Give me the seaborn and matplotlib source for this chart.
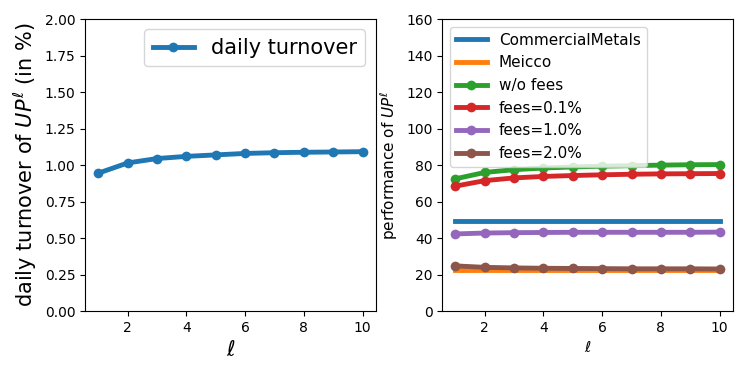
import numpy as np
import pandas as pd
import matplotlib
matplotlib.use("Agg")
import matplotlib.pyplot as plt
import seaborn as sns

ell = [1, 2, 3, 4, 5, 6, 7, 8, 9, 10]

turnover = [0.945, 1.015, 1.045, 1.06, 1.07, 1.08, 1.085, 1.088, 1.09, 1.092]

commercial_metals = [49.5] * 10
meicco = [22.5] * 10
wo_fees = [72.5, 76.0, 77.5, 78.4, 79.0, 79.4, 79.7, 80.0, 80.2, 80.3]
fees_01 = [68.5, 71.5, 73.0, 73.8, 74.3, 74.7, 75.0, 75.2, 75.3, 75.4]
fees_10 = [42.3, 42.8, 43.0, 43.1, 43.2, 43.2, 43.2, 43.2, 43.2, 43.3]
fees_20 = [24.8, 24.0, 23.7, 23.5, 23.4, 23.3, 23.2, 23.2, 23.2, 23.1]

pal = sns.color_palette("tab10")

fig, (ax1, ax2) = plt.subplots(1, 2, figsize=(7.47, 3.74), dpi=100)
ax1.set_position([0.114, 0.168, 0.389, 0.781])
ax2.set_position([0.592, 0.168, 0.389, 0.781])

# left panel: turnover
sns.lineplot(x=ell, y=turnover, ax=ax1, color=pal[0], marker="o", lw=3.5,
             markersize=7, markeredgewidth=0, label="daily turnover")
ax1.set_ylim(0, 2.0)
ax1.set_xlabel(r"$\ell$", fontsize=15)
ax1.set_ylabel(r"daily turnover of $UP^\ell$ (in %)", fontsize=15)
ax1.tick_params(labelsize=10)
ax1.legend(loc="upper right", fontsize=15)

# right panel: performance
sns.lineplot(x=ell, y=commercial_metals, ax=ax2, color=pal[0], lw=3.5,
             label="CommercialMetals")
sns.lineplot(x=ell, y=meicco, ax=ax2, color=pal[1], lw=3.5, label="Meicco")
series = [(wo_fees, "w/o fees", pal[2]), (fees_01, "fees=0.1%", pal[3]),
          (fees_10, "fees=1.0%", pal[4]), (fees_20, "fees=2.0%", pal[5])]
for vals, name, col in series:
    sns.lineplot(x=ell, y=vals, ax=ax2, color=col, marker="o", lw=3.5,
                 markersize=7, markeredgewidth=0, label=name)
ax2.set_ylim(0, 160)
ax2.set_xlabel(r"$\ell$", fontsize=11)
ax2.set_ylabel(r"performance of $UP^\ell$", fontsize=11)
ax2.tick_params(labelsize=10)
ax2.legend(loc="upper left", fontsize=11)

for ax in (ax1, ax2):
    ax.set_xticks([2, 4, 6, 8, 10])

fig.savefig("out.png", dpi=100)
